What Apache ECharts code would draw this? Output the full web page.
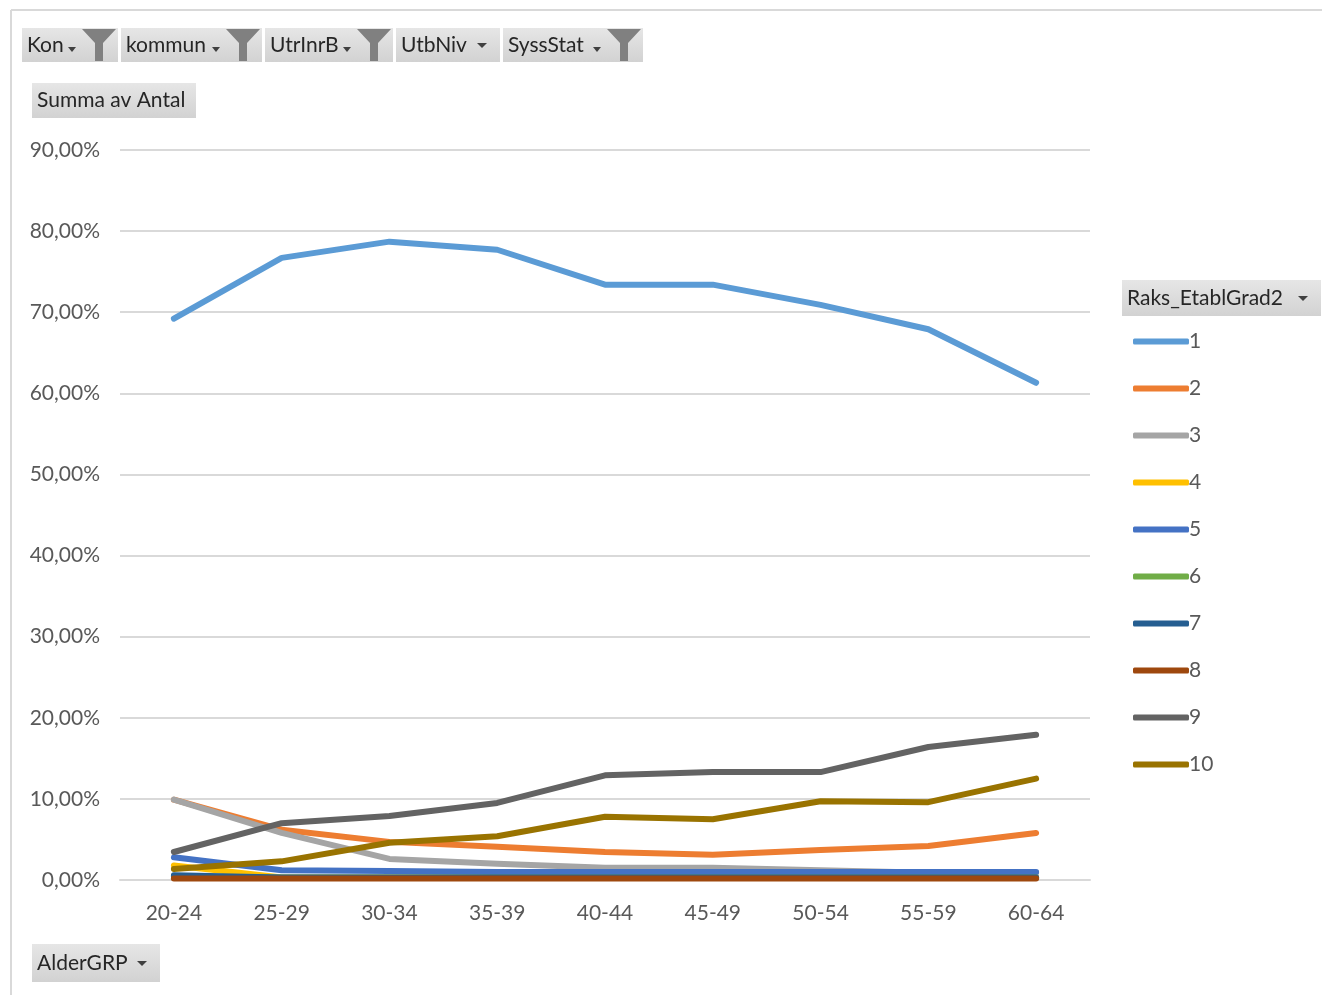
<!DOCTYPE html>
<html><head><meta charset="utf-8">
<script src="https://cdn.jsdelivr.net/npm/echarts@6/dist/echarts.min.js"></script>
<style>html,body{margin:0;padding:0;background:#fff}#c{width:1322px;height:995px}</style>
</head><body><div id="c"></div>
<script>
const categories = ['20-24','25-29','30-34','35-39','40-44','45-49','50-54','55-59','60-64'];
const seriesNames = ['1','2','3','4','5','6','7','8','9','10'];
const s1  = [69.2, 76.7, 78.7, 77.7, 73.4, 73.4, 70.9, 67.9, 61.3];
const s2  = [9.9, 6.2, 4.7, 4.1, 3.45, 3.1, 3.7, 4.2, 5.8];
const s3  = [9.9, 5.8, 2.6, 2.0, 1.5, 1.5, 1.2, 0.9, 0.9];
const s4  = [1.8, 0.3, 0.3, 0.3, 0.3, 0.3, 0.3, 0.3, 0.3];
const s5  = [2.8, 1.2, 1.1, 1.0, 1.0, 1.0, 1.0, 1.0, 1.0];
const s6  = [0.4, 0.3, 0.3, 0.3, 0.3, 0.3, 0.3, 0.3, 0.3];
const s7  = [0.6, 0.3, 0.3, 0.3, 0.3, 0.3, 0.3, 0.3, 0.3];
const s8  = [0.2, 0.2, 0.2, 0.2, 0.2, 0.2, 0.2, 0.2, 0.2];
const s9  = [3.45, 7.0, 7.9, 9.5, 12.9, 13.3, 13.3, 16.4, 17.9];
const s10 = [1.35, 2.3, 4.6, 5.4, 7.8, 7.5, 9.7, 9.6, 12.5];
const yTicks = [0,10,20,30,40,50,60,70,80,90];
const colors = ['#5B9BD5','#ED7D31','#A5A5A5','#FFC000','#4472C4','#70AD47','#255E91','#9E480E','#636363','#997300'];
const allData = [s1,s2,s3,s4,s5,s6,s7,s8,s9,s10];

const FONT = 'Lato, "Open Sans", sans-serif';
const TXT = '#595959';

function button(x, y, w, h, label, icon) {
  const els = [{
    type: 'rect', shape: {x: x, y: y, width: w, height: h},
    style: {fill: new echarts.graphic.LinearGradient(0,0,0,1,[{offset:0,color:'#e6e6e6'},{offset:1,color:'#d2d2d2'}])}
  }, {
    type: 'text', x: x + 5, y: y + h/2,
    style: {text: label, fill: '#262626', font: '21px ' + FONT, verticalAlign: 'middle'}
  }];
  if (icon === 'funnel') {
    const fx = x + w - 36;
    els.push({type:'polygon', shape:{points:[[fx-14,y+h/2+2],[fx-6,y+h/2+2],[fx-10,y+h/2+7]]}, style:{fill:'#404040'}});
    els.push({type:'polygon', shape:{points:[[fx,y+1],[fx+34,y+1],[fx+21,y+15],[fx+21,y+h-1],[fx+13,y+h-1],[fx+13,y+15]]}, style:{fill:'#808080'}});
  } else if (icon === 'arrow') {
    const ax = x + w - 18;
    els.push({type:'polygon', shape:{points:[[ax-5,y+h/2-2],[ax+5,y+h/2-2],[ax,y+h/2+3]]}, style:{fill:'#404040'}});
  }
  return els;
}

let graphics = [
  {type:'line', shape:{x1:11,y1:10,x2:1322,y2:10}, style:{stroke:'#d9d9d9', lineWidth:2}},
  {type:'line', shape:{x1:11,y1:10,x2:11,y2:995}, style:{stroke:'#d9d9d9', lineWidth:2}}
];
graphics = graphics
  .concat(button(22, 28, 96, 34, 'Kon', 'funnel'))
  .concat(button(121, 28, 141, 34, 'kommun', 'funnel'))
  .concat(button(265, 28, 128, 34, 'UtrInrB', 'funnel'))
  .concat(button(396, 28, 104, 34, 'UtbNiv', 'arrow'))
  .concat(button(503, 28, 140, 34, 'SyssStat', 'funnel'))
  .concat(button(32, 83, 164, 35, 'Summa av Antal', null))
  .concat(button(32, 944, 128, 38, 'AlderGRP', 'arrow'))
  .concat(button(1122, 280, 199, 36, 'Raks_EtablGrad2', 'arrow'));

const chart = echarts.init(document.getElementById('c'));
chart.setOption({
  animation: false,
  color: colors,
  grid: {left: 120, right: 232, top: 150, bottom: 115, containLabel: false},
  legend: {
    orient: 'vertical', left: 1128, top: 326,
    itemWidth: 56, itemHeight: 6, itemGap: 26,
    icon: 'roundRect',
    textStyle: {color: TXT, fontSize: 21, fontFamily: FONT, padding: [0,0,0,-5]},
    data: seriesNames
  },
  xAxis: {
    type: 'category', data: categories, boundaryGap: true,
    axisLine: {show: true, lineStyle: {color: '#d9d9d9', width: 2}},
    axisTick: {show: false},
    axisLabel: {color: TXT, fontSize: 21, fontFamily: FONT, margin: 23}
  },
  yAxis: {
    type: 'value', min: yTicks[0], max: yTicks[yTicks.length-1], interval: 10,
    axisLine: {show: false}, axisTick: {show: false},
    splitLine: {lineStyle: {color: '#d9d9d9', width: 2}},
    axisLabel: {color: TXT, fontSize: 21, fontFamily: FONT, margin: 20,
      formatter: v => v.toFixed(2).replace('.', ',') + '%'}
  },
  series: seriesNames.map((n, i) => ({
    name: n, type: 'line', data: allData[i],
    showSymbol: false, symbol: 'none',
    lineStyle: {width: 6, cap: 'round', join: 'round', color: colors[i]},
    itemStyle: {color: colors[i]}
  })),
  graphic: graphics
});
</script></body></html>
